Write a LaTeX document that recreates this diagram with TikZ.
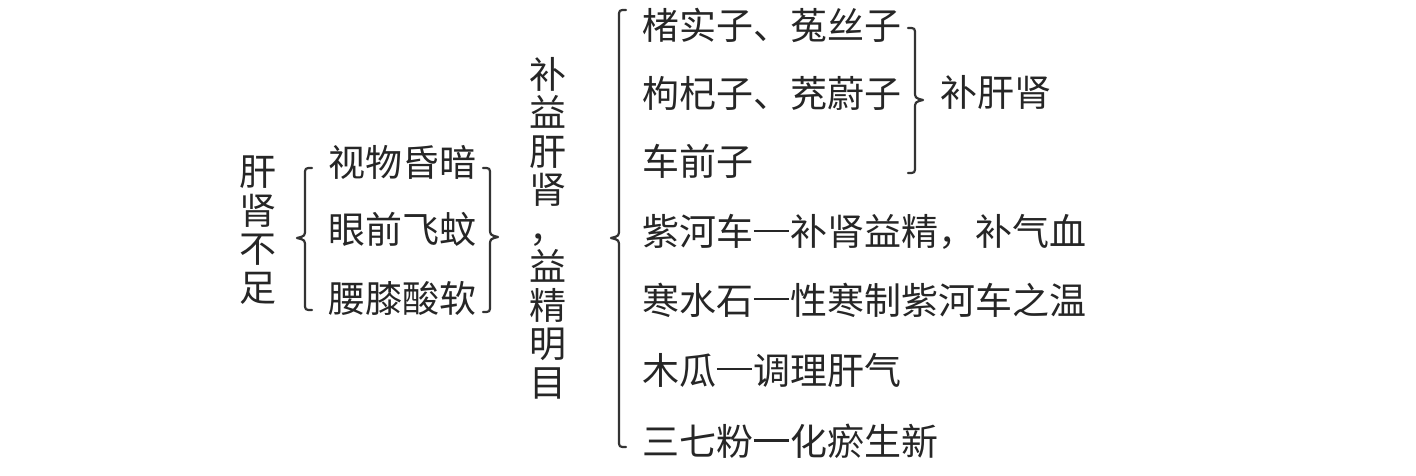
\documentclass[tikz,border=0pt]{standalone}
\usepackage{fontspec}
\newfontfamily\cjk{Noto Sans CJK SC}
\newcommand\myLB[4]{% x0, top, mid, bottom
  \draw[br] (#1+7,#2) .. controls (#1,#2) .. (#1,#2+7) -- (#1,#3-9)
    .. controls (#1,#3-2) .. (#1-8,#3) .. controls (#1,#3+2) .. (#1,#3+9)
    -- (#1,#4-7) .. controls (#1,#4) .. (#1+7,#4);}
\newcommand\myRB[4]{% x0, top, mid, bottom
  \draw[br] (#1-7,#2) .. controls (#1,#2) .. (#1,#2+7) -- (#1,#3-9)
    .. controls (#1,#3-2) .. (#1+8,#3) .. controls (#1,#3+2) .. (#1,#3+9)
    -- (#1,#4-7) .. controls (#1,#4) .. (#1-7,#4);}
\newcommand\mydash{\hbox to 1em{\hss\rule[0.37em]{0.96em}{0.055em}\hss}}
\begin{document}
\begin{tikzpicture}[x=1pt,y=-1pt,
  txt/.style={inner sep=0pt, text=black!85, font=\cjk\fontsize{37}{38.5}\selectfont},
  br/.style={line width=2.2pt, draw=black!80, line join=round, line cap=round}]
\useasboundingbox[fill=white] (0,0) rectangle (1416,476);
% left column
\node[txt, align=center] (gs) at (258,230) {肝\\肾\\不\\足};
\node[txt, anchor=west] (s1) at (328,162) {视物昏暗};
\node[txt, anchor=west] (s2) at (328,229) {眼前飞蚊};
\node[txt, anchor=west] (s3) at (328,298) {腰膝酸软};
\myLB{305}{168}{238}{310}
\myRB{490}{168}{237}{312}
% middle vertical
\node[txt, align=center] (bz) at (548,228) {补\\益\\肝\\肾\\，\\益\\精\\明\\目};
\myLB{619}{10}{238}{447}
% list
\node[txt, anchor=west] (l1) at (642,25) {楮实子、菟丝子};
\node[txt, anchor=west] (l2) at (642,93) {枸杞子、茺蔚子};
\node[txt, anchor=west] (l3) at (642,161) {车前子};
\node[txt, anchor=west] (l4) at (642,232) {紫河车\mydash 补肾益精，补气血};
\node[txt, anchor=west] (l5) at (642,300) {寒水石\mydash 性寒制紫河车之温};
\node[txt, anchor=west] (l6) at (642,370) {木瓜\mydash 调理肝气};
\node[txt, anchor=west] (l7) at (642,441) {三七粉\mydash 化瘀生新};
\myRB{915}{28}{100}{173}
\node[txt, anchor=west] (bg) at (940,92) {补肝肾};
\end{tikzpicture}
\end{document}
